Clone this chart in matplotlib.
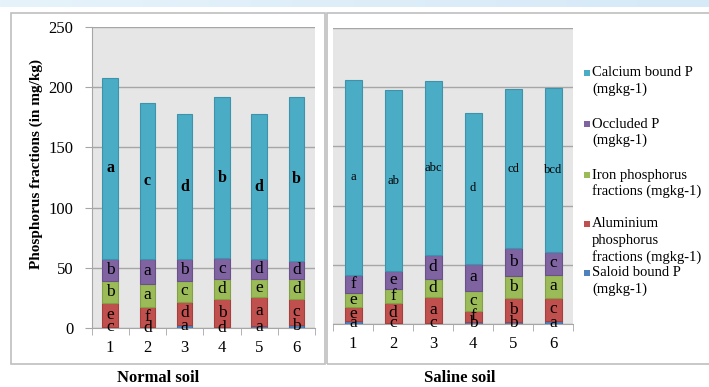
import matplotlib
matplotlib.use('Agg')
import matplotlib.pyplot as plt
import numpy as np
from matplotlib.patches import Rectangle
from matplotlib.colors import LinearSegmentedColormap

plt.rcParams['font.family'] = ['Liberation Serif', 'DejaVu Serif']

# ---------------- data ----------------
categories = ['1', '2', '3', '4', '5', '6']
y_ticks = [0, 50, 100, 150, 200, 250]

legend_entries = [
    ['Calcium bound P', '(mgkg-1)'],
    ['Occluded P', '(mgkg-1)'],
    ['Iron phosphorus', 'fractions (mgkg-1)'],
    ['Aluminium', 'phosphorus', 'fractions (mgkg-1)'],
    ['Saloid bound P', '(mgkg-1)'],
]

# Normal soil (bottom -> top)
normal_saloid = [1.0, 0.8, 2.5, 0.8, 2.0, 2.5]
normal_aluminium = [19.5, 16.9, 19.4, 23.4, 24.0, 21.7]
normal_iron = [18.3, 19.0, 16.9, 16.6, 14.8, 16.6]
normal_occluded = [18.2, 20.8, 18.2, 17.2, 16.2, 15.2]
normal_calcium = [151.0, 129.5, 121.0, 133.7, 121.0, 135.7]

normal_letters_saloid = ['c', 'd', 'a', 'd', 'a', 'b']
normal_letters_aluminium = ['e', 'f', 'd', 'b', 'a', 'c']
normal_letters_iron = ['b', 'a', 'c', 'd', 'e', 'd']
normal_letters_occluded = ['b', 'a', 'b', 'c', 'd', 'd']
normal_letters_calcium = ['a', 'c', 'd', 'b', 'd', 'b']

# Saline soil (bottom -> top)
saline_saloid = [2.5, 1.1, 1.0, 2.0, 2.0, 2.5]
saline_aluminium = [11.6, 16.4, 21.5, 9.3, 20.2, 19.7]
saline_iron = [11.8, 12.1, 15.5, 16.6, 18.6, 19.2]
saline_occluded = [15.6, 15.2, 20.0, 23.1, 23.2, 19.6]
saline_calcium = [164.5, 152.6, 147.0, 127.5, 134.2, 138.3]

saline_letters_saloid = ['a', 'c', 'c', 'b', 'b', 'a']
saline_letters_aluminium = ['e', 'd', 'a', 'f', 'b', 'c']
saline_letters_iron = ['e', 'f', 'd', 'c', 'b', 'a']
saline_letters_occluded = ['f', 'e', 'd', 'a', 'b', 'c']
saline_letters_calcium = ['a', 'ab', 'abc', 'd', 'cd', 'bcd']

# styles (bottom -> top order)
face_colors = ['#4F81BD', '#C0504D', '#9BBB59', '#8064A2', '#4BACC6']
edge_colors = ['#3E6DA3', '#A3403D', '#84A046', '#6A5189', '#3D93AB']
legend_colors = ['#4BACC6', '#8064A2', '#9BBB59', '#C0504D', '#4F81BD']

W, H = 709, 387
def fx(px):
    return px / W
def fy(py):
    return 1 - py / H

fig = plt.figure(figsize=(W / 100, H / 100), dpi=100)
fig.patch.set_facecolor('white')

# top banner strip
axb = fig.add_axes([0, fy(7), 1, 7 / H])
cmap = LinearSegmentedColormap.from_list('band', ['#E6F3FB', '#D5E9F7'])
axb.imshow(np.linspace(0, 1, 256)[None, :], aspect='auto', cmap=cmap, extent=[0, 1, 0, 1])
axb.set_axis_off()

# chart frames
fig.add_artist(Rectangle((fx(11), fy(364)), (325 - 11) / W, (364 - 13) / H,
                         transform=fig.transFigure, fill=False, ec='#BFBFBF', lw=1.2))
fig.add_artist(Rectangle((fx(327), fy(364)), (730 - 327) / W, (364 - 13) / H,
                         transform=fig.transFigure, fill=False, ec='#BFBFBF', lw=1.2))

axL = fig.add_axes([fx(91.5), fy(328), (315 - 91.5) / W, (328 - 27) / H])
axR = fig.add_axes([fx(333), fy(324), (573 - 333) / W, (324 - 28) / H])

x = np.arange(len(categories))

panels = [
    (axL, [normal_saloid, normal_aluminium, normal_iron, normal_occluded, normal_calcium],
     [normal_letters_saloid, normal_letters_aluminium, normal_letters_iron,
      normal_letters_occluded, normal_letters_calcium], 0.41, True),
    (axR, [saline_saloid, saline_aluminium, saline_iron, saline_occluded, saline_calcium],
     [saline_letters_saloid, saline_letters_aluminium, saline_letters_iron,
      saline_letters_occluded, saline_letters_calcium], 0.425, False),
]

for ax, series, letters, width, is_left in panels:
    ax.set_facecolor('#E6E6E6')
    bottom = np.zeros(len(categories))
    for i, vals in enumerate(series):
        vals = np.array(vals)
        bars = ax.bar(x, vals, width, bottom=bottom, color=face_colors[i],
                      edgecolor=edge_colors[i], linewidth=0.8, zorder=3)
        if i == 4:
            if is_left:
                ax.bar_label(bars, labels=letters[i], label_type='center',
                             fontsize=11.5, fontweight='bold', color='black', zorder=5)
            else:
                ax.bar_label(bars, labels=letters[i], label_type='center',
                             fontsize=9, color='black', zorder=5)
        else:
            ax.bar_label(bars, labels=letters[i], label_type='center',
                         fontsize=12.5, color='black', zorder=5)
        bottom += vals
    ax.set_xlim(-0.5, len(categories) - 0.5)
    ax.set_ylim(0, 250)
    ax.set_yticks(y_ticks)
    ax.yaxis.grid(True, color='#A6A6A6', lw=1)
    ax.set_axisbelow(True)
    ax.set_xticks(x)
    ax.set_xticklabels(categories, fontsize=12)
    ax.set_xticks(np.arange(-0.5, len(categories), 1), minor=True)
    ax.tick_params(axis='x', which='major', length=0, pad=9)
    ax.tick_params(axis='x', which='minor', length=5, color='#A6A6A6', direction='out')
    for s in ['top', 'right']:
        ax.spines[s].set_visible(False)
    ax.spines['bottom'].set_color('#A6A6A6')
    if is_left:
        ax.spines['left'].set_color('#A6A6A6')
        ax.tick_params(axis='y', length=5, color='#A6A6A6', pad=8, labelsize=12)
    else:
        ax.spines['left'].set_visible(False)
        ax.tick_params(axis='y', length=0, labelleft=False)

# y label and group labels
fig.text(fx(36), fy(164), 'Phosphorus fractions (in mg/kg)', rotation=90,
         ha='center', va='center', fontsize=11, fontweight='bold')
fig.text(fx(158), fy(378), 'Normal soil', ha='center', va='center',
         fontsize=12, fontweight='bold')
fig.text(fx(460), fy(378), 'Saline soil', ha='center', va='center',
         fontsize=12, fontweight='bold')

# legend (manual, to follow the reference spacing)
first_line_y = [73, 124, 175, 224, 273]
line_step = 16.5
for lines, color, y0 in zip(legend_entries, legend_colors, first_line_y):
    fig.add_artist(Rectangle((fx(584), fy(y0 + 3)), 6 / W, 6 / H,
                             transform=fig.transFigure, fc=color, ec='none'))
    for k, line in enumerate(lines):
        fig.text(fx(592), fy(y0 + k * line_step), line, ha='left', va='center',
                 fontsize=10.5)

fig.savefig('out.png', dpi=100)
